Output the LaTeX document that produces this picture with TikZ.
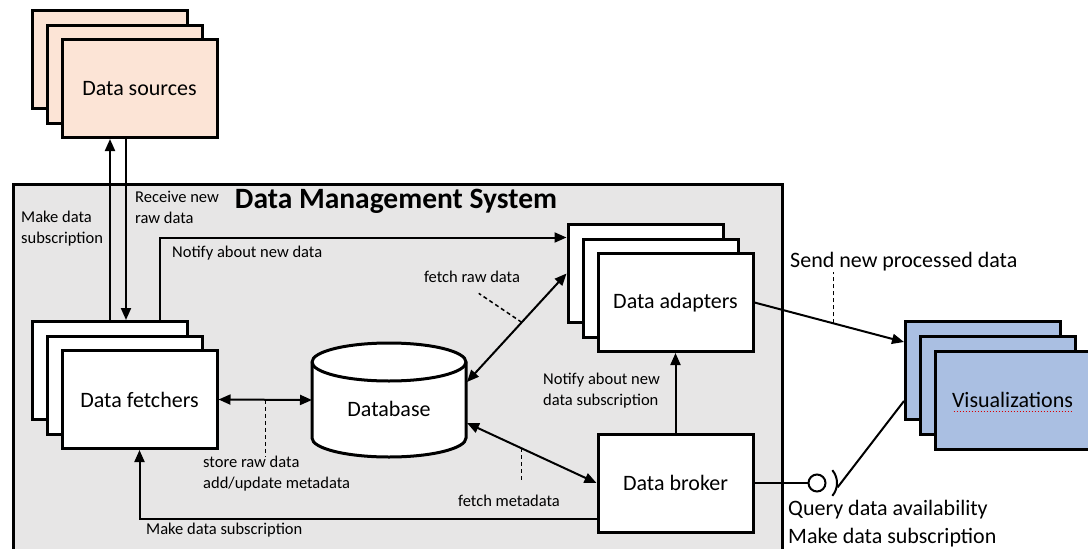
\documentclass[tikz,border=0pt]{standalone}
\usepackage{fontspec}
\setmainfont{Carlito}
\usetikzlibrary{arrows.meta,calc}

\definecolor{srcfill}{HTML}{FCE4D6}
\definecolor{dmsfill}{HTML}{E7E6E6}
\definecolor{visfill}{HTML}{AABFE2}

\tikzset{
  unit/.style={draw, line width=3pt, minimum width=155pt, minimum height=98pt,
    inner sep=0pt, fill=white, font=\fontsize{22}{26}\selectfont},
  arr/.style={line width=2pt, -{Triangle[length=12pt,width=10pt]}},
  dbl/.style={line width=2pt, {Triangle[length=12pt,width=10pt]}-{Triangle[length=12pt,width=10pt]}},
  note/.style={line width=1.5pt, dash pattern=on 4pt off 3pt},
  lbl/.style={inner sep=0pt, font=\fontsize{16.5}{21}\selectfont, align=left},
  biglbl/.style={inner sep=0pt, font=\fontsize{22}{28}\selectfont, align=left},
}

\begin{document}
\begin{tikzpicture}[x=1pt,y=-1pt]
\useasboundingbox (0,0) rectangle (1088,549);
\clip (0,0) rectangle (1088,549);

% system frame
\node[draw, fill=dmsfill, line width=3pt, minimum width=769pt, minimum height=390pt,
  anchor=north west, inner sep=0pt] (dms) at (12,183) {};
\node[inner sep=0pt, font=\fontsize{29.5}{32}\selectfont\bfseries] (title) at (396,201) {Data Management System};

% data sources (stacked)
\node[unit, fill=srcfill] (src3) at (110,59) {};
\node[unit, fill=srcfill] (src2) at (125,74) {};
\node[unit, fill=srcfill] (src) at (139.5,88.5) {Data sources};

% data fetchers (stacked)
\node[unit] (fetch3) at (109.5,370.5) {};
\node[unit] (fetch2) at (125,385.5) {};
\node[unit] (fetch) at (139.5,399.5) {Data fetchers};

% data adapters (stacked)
\node[unit] (adapt3) at (645.5,273) {};
\node[unit] (adapt2) at (660.5,288) {};
\node[unit] (adapt) at (675.5,302.5) {Data adapters};

% broker
\node[unit] (broker) at (675.5,483) {Data broker};

% visualizations (stacked)
\node[unit, fill=visfill] (vis3) at (983,370.5) {};
\node[unit, fill=visfill] (vis2) at (998,385) {};
\node[unit, fill=visfill] (vis) at (1012.5,400) {Visualizations};
\draw[red!85!black, line width=1.3pt, dash pattern=on 1.5pt off 1.5pt] ($(vis.base)+(-59,4)$) -- ($(vis.base)+(59,4)$);

% database cylinder
\draw[line width=3pt, fill=white] (312,362) -- (312,438)
  arc[start angle=180, end angle=360, x radius=77pt, y radius=19pt] -- (466,362)
  arc[start angle=0, end angle=180, x radius=77pt, y radius=19pt] -- cycle;
\draw[line width=3pt] (312,362) arc[start angle=180, end angle=360, x radius=77pt, y radius=19pt];
\node[inner sep=0pt, font=\fontsize{22}{26}\selectfont] (db) at (389,409) {Database};
\coordinate (db-w) at (312,400);
\coordinate (db-ne) at (467,382);
\coordinate (db-se) at (467,423);

% sources <-> fetchers
\coordinate (subx) at (110,0);
\coordinate (rcvx) at (126,0);
\coordinate (notx) at (160,0);
\draw[arr] (fetch3.north -| subx) -- (src.south -| subx);
\draw[arr] (src.south -| rcvx) -- (fetch3.north -| rcvx);
\node[lbl, anchor=west] (sublbl) at (21,229) {Make data\\subscription};
\node[lbl, anchor=west] (rcvlbl) at (135,207) {Receive new\\raw data};

% fetchers notify adapters
\draw[arr] (fetch3.north -| notx) |- ([yshift=-15pt]adapt3.north west);
\node[lbl, anchor=west] (notlbl) at (172,253) {Notify about new data};

% fetchers <-> database
\draw[dbl] (fetch.east) -- (db-w);
\node[lbl, anchor=north west] (storelbl) at (203,456) {store raw data\\add/update metadata};
\draw[note] ($(fetch.east)!0.5!(db-w)$) -- (storelbl.north -| {$(fetch.east)!0.5!(db-w)$});

% database <-> adapters
\coordinate (rawin) at ([yshift=-51pt]adapt3.north west);
\draw[dbl] (db-ne) -- (rawin);
\node[lbl] (rawlbl) at (472,277) {fetch raw data};
\draw[note] ($(db-ne)!0.55!(rawin)$) -- ++(-43,-29);

% database <-> broker
\draw[dbl] (db-se) -- (broker.west);
\node[lbl] (metalbl) at (509,501) {fetch metadata};
\draw[note] ($(db-se)!0.42!(broker.west)$) -- ++(0,34);

% broker notifies adapters
\draw[arr] (broker.north) -- (adapt.south);
\node[lbl, anchor=west] (brklbl) at (543,391) {Notify about new\\data subscription};

% broker subscribes via fetchers
\draw[arr] ([yshift=15pt]broker.south west) -| (fetch.south);
\node[lbl, anchor=west] (mksub) at (146,530) {Make data subscription};

% adapters -> visualizations
\coordinate (visin) at ([yshift=-22pt]vis3.north west);
\draw[arr] (adapt.east) -- (visin);
\node[biglbl, anchor=west] (sendlbl) at (790,262) {Send new processed data};
\draw[note] ($(adapt.east)!0.53!(visin)$) -- (sendlbl.south -| {$(adapt.east)!0.53!(visin)$});

% broker interface (ball and socket)
\node[draw, circle, line width=2pt, minimum size=17pt, inner sep=0pt] (ball) at (817,483) {};
\draw[line width=2pt] (broker.east) -- (ball.west);
\draw[line width=2pt] ($(ball)+(-40:20pt)$) arc[start angle=-40, end angle=40, radius=20pt];
\draw[line width=2pt] ($(ball)+(-12:21pt)$) -- ([yshift=20pt]vis3.south west);
\node[biglbl, anchor=west] (querylbl) at (788,524) {Query data availability\\Make data subscription};
\end{tikzpicture}
\end{document}
